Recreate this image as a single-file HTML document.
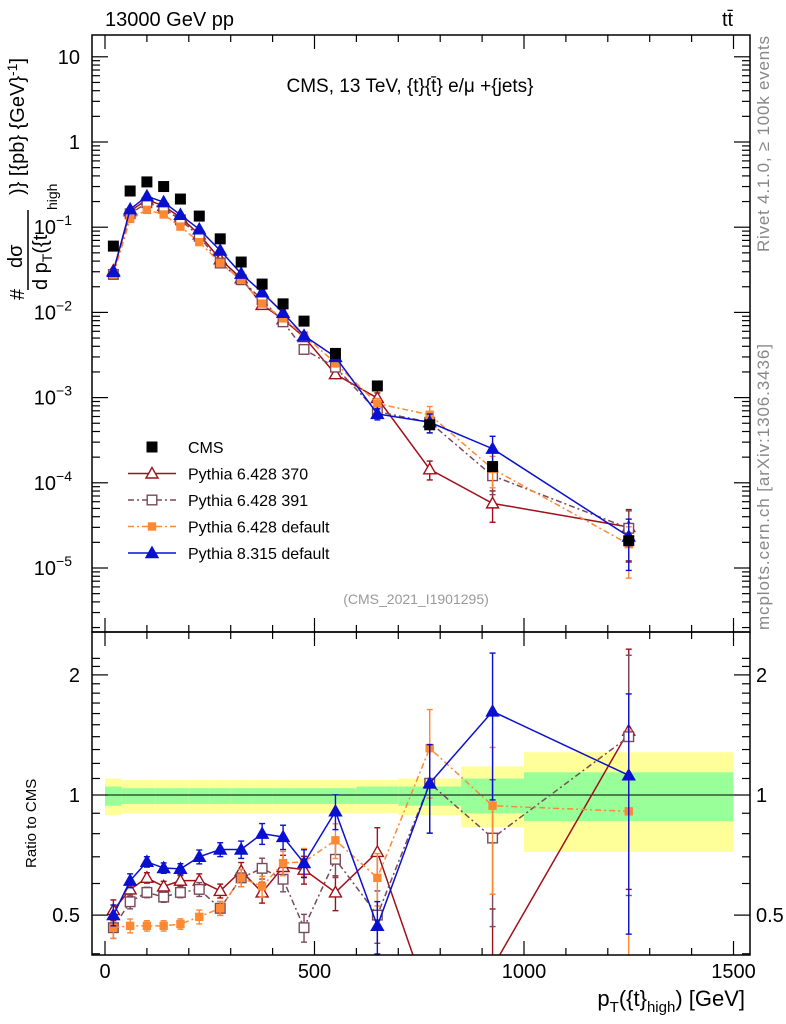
<!DOCTYPE html>
<html><head><meta charset="utf-8">
<style>
html,body{margin:0;padding:0;background:#fff;}
svg{display:block;font-family:"Liberation Sans",sans-serif;}
</style></head>
<body>
<svg id="c" width="786" height="1024" xmlns="http://www.w3.org/2000/svg">
<text x="105" y="26" font-size="20">13000 GeV pp</text>
<text x="722" y="26" font-size="20">tt̄</text>
<text x="410" y="92" font-size="19" text-anchor="middle">CMS, 13 TeV, {t}{t̄} e/μ +{jets}</text>
<text x="416" y="604" font-size="14" fill="#999" text-anchor="middle">(CMS_2021_I1901295)</text>
<text transform="translate(769,252) rotate(-90)" font-size="17" fill="#888" textLength="216">Rivet 4.1.0, ≥ 100k events</text>
<text transform="translate(769,630) rotate(-90)" font-size="17" fill="#888" textLength="286">mcplots.cern.ch [arXiv:1306.3436]</text>
<g font-size="20">
<text transform="translate(24,300) rotate(-90)">#</text>
<text transform="translate(22,268) rotate(-90)">dσ</text>
<line x1="28" y1="210" x2="28" y2="290" stroke="#000" stroke-width="1.5"/>
<text transform="translate(47,290) rotate(-90)">d p<tspan font-size="14" dy="5">T</tspan><tspan dy="-5">({t</tspan></text>
<text transform="translate(57,210) rotate(-90)" font-size="14">high</text>
<text transform="translate(24,195) rotate(-90)">)} [{pb} {GeV}<tspan font-size="14" dy="-7">-1</tspan><tspan dy="7">]</tspan></text>
</g>
<text transform="translate(36,868) rotate(-90)" font-size="15">Ratio to CMS</text>
<text x="745" y="1006" font-size="22" text-anchor="end">p<tspan font-size="15" dy="6">T</tspan><tspan dy="-6">({t}</tspan><tspan font-size="15" dy="6">high</tspan><tspan dy="-6">) [GeV]</tspan></text>
<g id="bands"></g><g id="marks"></g><g id="axes"></g><g id="legend"></g>
</svg>
<script>
const centers=[20,60,100,140,180,225,275,325,375,425,475,550,650,775,925,1250];
const edges=[0,40,80,120,160,200,250,300,350,400,450,500,600,700,850,1000,1500];
const cms=[0.060,0.266,0.34,0.30,0.214,0.135,0.073,0.039,0.0215,0.0126,0.0079,0.0033,0.00137,0.00048,0.000155,0.0000209];
const r370=[0.515,0.58,0.62,0.59,0.61,0.61,0.575,0.645,0.57,0.66,0.65,0.57,0.72,0.30,0.37,1.45];
const r391=[0.465,0.54,0.57,0.555,0.57,0.58,0.52,0.62,0.655,0.615,0.465,0.69,0.50,1.07,0.78,1.40];
const rdef6=[0.465,0.47,0.47,0.47,0.475,0.495,0.52,0.62,0.59,0.675,0.68,0.77,0.62,1.31,0.94,0.91];
const rdef8=[0.50,0.61,0.68,0.656,0.653,0.70,0.73,0.73,0.80,0.785,0.675,0.91,0.47,1.07,1.62,1.12];
const relErr=[0.06,0.04,0.03,0.03,0.03,0.04,0.04,0.05,0.06,0.07,0.08,0.1,0.15,0.25,0.4,0.6];
const yelUp=[1.10,1.09,1.09,1.09,1.09,1.09,1.09,1.09,1.09,1.09,1.09,1.09,1.09,1.10,1.18,1.28];
const yelDn=[0.89,0.90,0.90,0.90,0.90,0.90,0.90,0.90,0.90,0.90,0.90,0.90,0.90,0.89,0.83,0.72];
const grnUp=[1.05,1.04,1.04,1.04,1.04,1.04,1.04,1.04,1.04,1.04,1.04,1.04,1.05,1.05,1.10,1.14];
const grnDn=[0.94,0.95,0.95,0.95,0.95,0.95,0.95,0.95,0.95,0.95,0.95,0.95,0.95,0.94,0.90,0.86];
const xTicks=["0","500","1000","1500"];

const NS="http://www.w3.org/2000/svg";
const L=92,R=750,T=35,M=632,B=955;
const X=v=>105+v*0.419;
const Y=v=>142-85.2*Math.log10(v);
const YR=v=>795-399*Math.log10(v);
function mk(tag,at,parent){const e=document.createElementNS(NS,tag);for(const k in at)e.setAttribute(k,at[k]);parent.appendChild(e);return e;}
const bands=document.getElementById('bands'),marks=document.getElementById('marks'),axes=document.getElementById('axes'),leg=document.getElementById('legend');

for(let i=0;i<centers.length;i++){
  const x1=X(edges[i]),x2=Math.min(X(edges[i+1]),R);
  let e=mk('rect',{x:x1,y:YR(yelUp[i]),width:x2-x1,height:YR(yelDn[i])-YR(yelUp[i]),fill:'#ffff99'},bands);
  
  
  e=mk('rect',{x:x1,y:YR(grnUp[i]),width:x2-x1,height:YR(grnDn[i])-YR(grnUp[i]),fill:'#99ff99'},bands);
  
  
}
mk('line',{x1:L,x2:R,y1:YR(1),y2:YR(1),stroke:'#000','stroke-width':1},bands);

const series=[
 {name:'pythia-6428-370',r:r370,col:'#a0101a',dash:'',sym:'tri-open',lab:'Pythia 6.428 370'},
 {name:'pythia-6428-391',r:r391,col:'#7a4a5a',dash:'6,3,2,3',sym:'sq-open',lab:'Pythia 6.428 391'},
 {name:'pythia-6428-default',r:rdef6,col:'#ff8833',dash:'6,3,2,3',sym:'sq-fill',lab:'Pythia 6.428 default'},
 {name:'pythia-8315-default',r:rdef8,col:'#0a10d0',dash:'',sym:'tri-fill',lab:'Pythia 8.315 default'}
];
function sym(g,type,x,y,col,s){
  if(type.startsWith('tri')){const p=`${x},${y-s} ${x-s},${y+s*0.75} ${x+s},${y+s*0.75}`;
    return mk('polygon',{points:p,fill:type.endsWith('fill')?col:'#fff',stroke:col,'stroke-width':1.4},g);}
  if(type==='sq-fill')return mk('rect',{x:x-s*0.7,y:y-s*0.7,width:s*1.4,height:s*1.4,fill:col},g);
  if(type==='sq-open')return mk('rect',{x:x-s*0.8,y:y-s*0.8,width:s*1.6,height:s*1.6,fill:'#fff',stroke:col,'stroke-width':1.4},g);
  return mk('rect',{x:x-s,y:y-s,width:2*s,height:2*s,fill:col},g);
}
const clip=mk('clipPath',{id:'cm'},document.getElementById('c'));mk('rect',{x:L,y:T,width:R-L,height:M-T},clip);
const clip2=mk('clipPath',{id:'cr'},document.getElementById('c'));mk('rect',{x:L,y:M,width:R-L,height:B-M},clip2);
const gm=mk('g',{'clip-path':'url(#cm)'},marks),gr=mk('g',{'clip-path':'url(#cr)'},marks);
series.forEach(s=>{
  const g1=mk('g',{},gm);
  const g2=mk('g',{},gr);
  const pm=centers.map((c,i)=>X(c)+','+Y(cms[i]*s.r[i])).join(' ');
  const pr=centers.map((c,i)=>X(c)+','+YR(s.r[i])).join(' ');
  mk('polyline',{points:pm,fill:'none',stroke:s.col,'stroke-width':1.5,'stroke-dasharray':s.dash},g1);
  mk('polyline',{points:pr,fill:'none',stroke:s.col,'stroke-width':1.5,'stroke-dasharray':s.dash},g2);
  centers.forEach((c,i)=>{
    const x=X(c),v=cms[i]*s.r[i],e=relErr[i];
    [[g1,Y,v],[g2,YR,s.r[i]]].forEach(([g,f,val])=>{
      const y1=f(val*(1+e)),y2=f(Math.max(val*(1-e),1e-9));
      mk('line',{x1:x,x2:x,y1:y1,y2:y2,stroke:s.col,'stroke-width':1.4},g);
      mk('line',{x1:x-3,x2:x+3,y1:y1,y2:y1,stroke:s.col,'stroke-width':1.4},g);
      mk('line',{x1:x-3,x2:x+3,y1:y2,y2:y2,stroke:s.col,'stroke-width':1.4},g);
      const p=sym(g,s.sym,x,f(val),s.col,6);
      
      
    });
  });
});
centers.forEach((c,i)=>{
  const p=sym(gm,'data',X(c),Y(cms[i]),'#000',5.5);
  
  
});

mk('rect',{x:L,y:T,width:R-L,height:M-T,fill:'none',stroke:'#000','stroke-width':1.5},axes);
mk('rect',{x:L,y:M,width:R-L,height:B-M,fill:'none',stroke:'#000','stroke-width':1.5},axes);
for(let v=0;v<=1500;v+=100){
  const x=X(v),big=v%500===0,l=big?14:7;
  [[T,1],[M,-1],[M,1],[B,-1]].forEach(([y,d])=>mk('line',{x1:x,x2:x,y1:y,y2:y+d*l,stroke:'#000','stroke-width':1.2},axes));
}
xTicks.forEach(t=>{const e=mk('text',{x:X(+t),y:978,'font-size':20,'text-anchor':'middle'},axes);e.textContent=t;
  
  });
for(let d=-6;d<=1;d++)for(let m=1;m<10;m++){
  const v=m*Math.pow(10,d),y=Y(v);if(y<T||y>M)continue;const l=m===1?16:8;
  mk('line',{x1:L,x2:L+l,y1:y,y2:y,stroke:'#000','stroke-width':1.2},axes);
  mk('line',{x1:R,x2:R-l,y1:y,y2:y,stroke:'#000','stroke-width':1.2},axes);
}
const ylabs=[[1,'10',''],[0,'1',''],[-1,'10','−1'],[-2,'10','−2'],[-3,'10','−3'],[-4,'10','−4'],[-5,'10','−5']];
ylabs.forEach(([d,b,s])=>{const e=mk('text',{x:s?72:80,y:Y(Math.pow(10,d))+7,'font-size':20,'text-anchor':'end'},axes);
  
  
  e.textContent=b;if(s){const t=mk('tspan',{'font-size':14,dy:-9},e);t.textContent=s;}});
for(let v=0.4;v<=2.3;v+=0.1){const y=YR(v);if(y<M||y>B)continue;const big=Math.abs(v-0.5)<1e-6||Math.abs(v-1)<1e-6||Math.abs(v-2)<1e-6;const l=big?16:8;
  mk('line',{x1:L,x2:L+l,y1:y,y2:y,stroke:'#000','stroke-width':1.2},axes);
  mk('line',{x1:R,x2:R-l,y1:y,y2:y,stroke:'#000','stroke-width':1.2},axes);}
[['2',2],['1',1],['0.5',0.5]].forEach(([t,v])=>{
  let e=mk('text',{x:80,y:YR(v)+7,'font-size':20,'text-anchor':'end'},axes);e.textContent=t;
  
  
  e=mk('text',{x:756,y:YR(v)+7,'font-size':20},axes);e.textContent=t;
  
  });
const entries=[{sym:'data',col:'#000',dash:'',lab:'CMS',line:false}].concat(series.map(s=>({sym:s.sym,col:s.col,dash:s.dash,lab:s.lab,line:true})));
entries.forEach((en,i)=>{const y=447+i*26.5;const g=mk('g',{},leg);
  
  
  if(en.line)mk('line',{x1:128,x2:176,y1:y,y2:y,stroke:en.col,'stroke-width':1.5,'stroke-dasharray':en.dash},g);
  sym(g,en.sym,152,y,en.col,en.sym==='data'?5.5:6);
  const t=mk('text',{x:188,y:y+6,'font-size':16},g);t.textContent=en.lab;});
</script>
</body></html>
